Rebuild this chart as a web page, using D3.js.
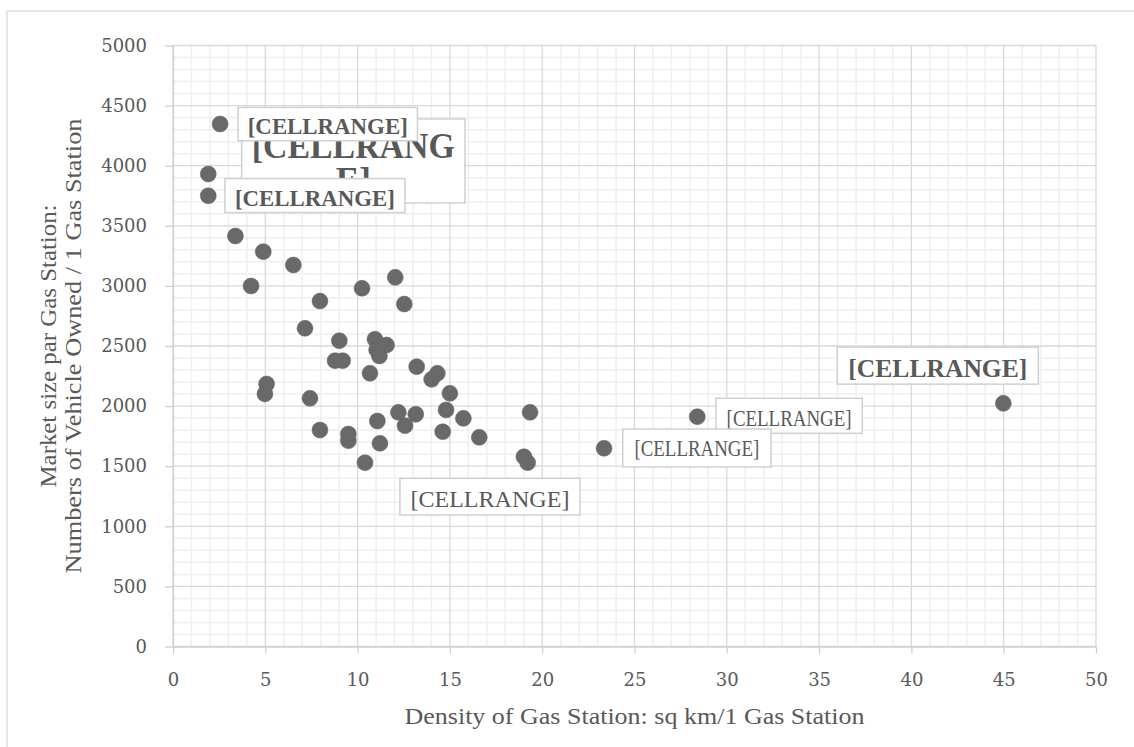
<!DOCTYPE html>
<html>
<head>
<meta charset="utf-8">
<script src="https://cdn.jsdelivr.net/npm/d3@7"></script>
<style>
  html, body { margin: 0; padding: 0; background: #ffffff; }
  svg { display: block; }
</style>
</head>
<body>
<svg id="chart" width="1134" height="747"></svg>
<script>
// ---------- data ----------
const xValues = [2.55, 1.91, 1.91, 3.38, 4.89, 6.52, 4.23, 7.96, 10.24, 12.04,
  12.53, 7.15, 9.01, 8.78, 9.19, 10.94, 11.57, 11.03, 11.18, 10.67,
  13.20, 14.32, 14.01, 15.00, 5.07, 4.98, 7.42, 7.96, 9.50, 9.50,
  10.40, 11.07, 11.21, 12.21, 13.15, 12.57, 14.79, 15.73, 14.61, 16.59,
  19.34, 19.01, 19.21, 23.35, 28.40, 44.98];
const yValues = [4347, 3931, 3750, 3415, 3285, 3174, 2999, 2874, 2980, 3071,
  2849, 2647, 2544, 2378, 2378, 2556, 2508, 2467, 2417, 2273,
  2328, 2273, 2223, 2106, 2184, 2101, 2065, 1801, 1768, 1712,
  1529, 1876, 1690, 1948, 1932, 1837, 1968, 1898, 1787, 1740,
  1948, 1579, 1529, 1649, 1912, 2023];
const xTickValues = [0, 5, 10, 15, 20, 25, 30, 35, 40, 45, 50];
const yTickValues = [0, 500, 1000, 1500, 2000, 2500, 3000, 3500, 4000, 4500, 5000];
const xTitle = "Density of Gas Station: sq km/1 Gas Station";
const yTitleLines = ["Market size par Gas Station:", "Numbers of Vehicle Owned / 1 Gas Station"];
const labelTexts = ["[CELLRANGE]", "[CELLRANG", "E]"];

// ---------- layout ----------
const plot = { left: 173, right: 1096, top: 45.5, bottom: 646.5 };
const svg = d3.select("#chart");
const x = d3.scaleLinear().domain([0, 50]).range([plot.left, plot.right]);
const y = d3.scaleLinear().domain([0, 5000]).range([plot.bottom, plot.top]);
const textColor = "#595959";
const serif = "'Liberation Serif', 'Times New Roman', serif";
const tickFont = "'DejaVu Serif', Georgia, serif";

// outer frame
svg.append("rect").attr("x", 7).attr("y", 11).attr("width", 1140).attr("height", 760)
  .attr("fill", "#fff").attr("stroke", "#d9d9d9").attr("stroke-width", 1.3);

// minor grid
const grid = svg.append("g");
grid.selectAll(".mx").data(d3.range(0, 51, 1).filter(v => v % 5 !== 0)).join("line")
  .attr("x1", d => x(d)).attr("x2", d => x(d)).attr("y1", plot.top).attr("y2", plot.bottom)
  .attr("stroke", "#efefef").attr("stroke-width", 1.5);
grid.selectAll(".my").data(d3.range(0, 5001, 100).filter(v => v % 500 !== 0)).join("line")
  .attr("y1", d => y(d)).attr("y2", d => y(d)).attr("x1", plot.left).attr("x2", plot.right)
  .attr("stroke", "#efefef").attr("stroke-width", 1.5);
// major grid
grid.selectAll(".Mx").data(xTickValues).join("line")
  .attr("x1", d => x(d)).attr("x2", d => x(d)).attr("y1", plot.top).attr("y2", plot.bottom)
  .attr("stroke", "#d9d9d9").attr("stroke-width", 1.3);
grid.selectAll(".My").data(yTickValues).join("line")
  .attr("y1", d => y(d)).attr("y2", d => y(d)).attr("x1", plot.left).attr("x2", plot.right)
  .attr("stroke", "#d9d9d9").attr("stroke-width", 1.3);

// axes
const fmt = d3.format("d");
const yAxis = svg.append("g").attr("transform", `translate(${plot.left},0)`)
  .call(d3.axisLeft(y).tickValues(yTickValues).tickFormat(fmt).tickSize(8).tickSizeOuter(0).tickPadding(18));
const xAxis = svg.append("g").attr("transform", `translate(0,${plot.bottom})`)
  .call(d3.axisBottom(x).tickValues(xTickValues).tickFormat(fmt).tickSize(7).tickSizeOuter(0).tickPadding(20));
[xAxis, yAxis].forEach(g => {
  g.select(".domain").attr("stroke", "#d0d0d0").attr("stroke-width", 1.3);
  g.selectAll(".tick line").attr("stroke", "#d0d0d0").attr("stroke-width", 1.3);
  g.selectAll(".tick text").attr("fill", textColor).attr("font-family", tickFont).attr("font-size", 18);
});

// axis titles
svg.append("text").attr("x", (plot.left + plot.right) / 2).attr("y", 724)
  .attr("text-anchor", "middle").attr("fill", textColor)
  .attr("font-family", serif).attr("font-size", 23)
  .attr("textLength", 460).attr("lengthAdjust", "spacingAndGlyphs").text(xTitle);
const yMid = (plot.top + plot.bottom) / 2;
const yTitleLen = [283, 455];
yTitleLines.forEach((t, i) => {
  svg.append("text").attr("transform", `translate(${56 + i * 25},${yMid}) rotate(-90)`)
    .attr("text-anchor", "middle").attr("fill", textColor)
    .attr("font-family", serif).attr("font-size", 23)
    .attr("textLength", yTitleLen[i]).attr("lengthAdjust", "spacingAndGlyphs").text(t);
});

// points
const points = xValues.map((v, i) => ({ x: v, y: yValues[i] }));
svg.append("g").selectAll("circle").data(points).join("circle")
  .attr("cx", d => x(d.x)).attr("cy", d => y(d.y)).attr("r", 8)
  .attr("fill", "#696969").attr("stroke", "#666").attr("stroke-width", 0.5);

// data labels (box offsets are relative to their point, in px)
const labelLayout = [
  { pt: 1, dx: 33.4, dy: -55, w: 223.3, h: 84, lines: [1, 2], size: 35, bold: true, base: [39.5, 73.5], tl: [203, null] },
  { pt: 0, dx: 18, dy: -16.6, w: 179.4, h: 33.4, lines: [0], size: 23, bold: true, base: [27], tl: [160] },
  { pt: 2, dx: 16.7, dy: -17.2, w: 180, h: 34, lines: [0], size: 23, bold: true, base: [27], tl: [160] },
  { pt: 45, dx: -166, dy: -56.2, w: 201, h: 37, lines: [0], size: 26, bold: true, base: [29.4], tl: [179] },
  { pt: 44, dx: 18.7, dy: -18.4, w: 146.3, h: 35, lines: [0], size: 23, bold: false, base: [27.7], tl: [125] },
  { pt: 43, dx: 18.7, dy: -19.3, w: 148.3, h: 38, lines: [0], size: 23, bold: false, base: [27.4], tl: [125] },
  { pt: 42, dx: -127.7, dy: 15.6, w: 180, h: 36.7, lines: [0], size: 24, bold: false, base: [28.4], tl: [159] }
];
const lg = svg.append("g");
labelLayout.forEach(L => {
  const px = x(points[L.pt].x) + L.dx, py = y(points[L.pt].y) + L.dy;
  const g = lg.append("g").attr("transform", `translate(${px},${py})`);
  g.append("rect").attr("width", L.w).attr("height", L.h)
    .attr("fill", "#fff").attr("stroke", "#d0d0d0").attr("stroke-width", 1.5);
  L.lines.forEach((li, k) => {
    const t = g.append("text").attr("x", L.w / 2).attr("y", L.base[k])
      .attr("text-anchor", "middle").attr("fill", textColor)
      .attr("font-family", serif).attr("font-size", L.size)
      .attr("font-weight", L.bold ? "bold" : "normal").text(labelTexts[li]);
    if (L.tl[k]) t.attr("textLength", L.tl[k]).attr("lengthAdjust", "spacingAndGlyphs");
  });
});
</script>
</body>
</html>
